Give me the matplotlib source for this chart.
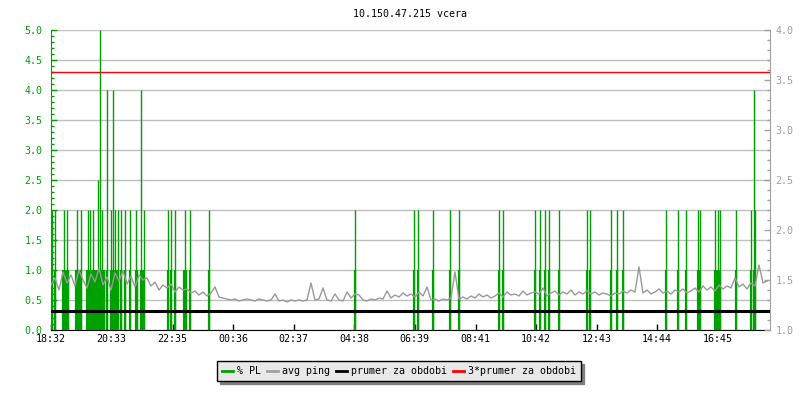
import numpy as np
import matplotlib
matplotlib.use('Agg')
import matplotlib.pyplot as plt
from matplotlib.ticker import MultipleLocator, FormatStrFormatter

plt.rcParams['font.family'] = 'DejaVu Sans Mono'
plt.rcParams['font.size'] = 7.2

title = '10.150.47.215 vcera'

# x axis: minutes since 18:32
tick_min = [0, 121, 243, 364, 485, 606, 727, 849, 970, 1091, 1212, 1333]
tick_lab = ['18:32', '20:33', '22:35', '00:36', '02:37', '04:38',
            '06:39', '08:41', '10:42', '12:43', '14:44', '16:45']
x_end = 1438

# packet loss samples (% PL), only the non zero ones
pl_min = [2, 8, 24, 26, 28, 30, 32, 34, 50, 52, 54, 56, 60, 72, 74, 76, 78,
          80, 82, 84, 86, 88, 92, 94, 97, 100, 102, 104, 106, 111, 120, 124,
          128, 132, 134, 140, 148, 158, 170, 172, 180, 182, 184, 186, 234,
          240, 248, 266, 268, 270, 278, 315,
          607, 725, 733, 763, 797, 815, 895, 904, 967, 978, 987, 995, 1015,
          1071, 1078, 1119, 1132, 1143, 1229, 1253, 1270, 1294, 1296, 1298,
          1327, 1330, 1333, 1335, 1338, 1369, 1400, 1405, 1408]
pl_val = [2.0, 2.0, 1.0, 2.0, 1.0, 1.0, 2.0, 1.0, 1.0, 2.0, 1.0, 1.0, 2.0,
          1.0, 2.0, 1.0, 2.0, 1.0, 1.0, 2.0, 1.0, 1.0, 1.0, 2.5, 5.0, 1.0,
          2.0, 1.0, 1.0, 4.0, 2.0, 4.0, 2.0, 1.0, 2.0, 2.0, 2.0, 2.0, 2.0,
          1.0, 4.0, 1.0, 1.0, 2.0, 2.0, 2.0, 2.0, 1.0, 2.0, 1.0, 2.0, 2.0,
          2.0, 2.0, 2.0, 2.0, 2.0, 2.0, 2.0, 2.0, 2.0, 2.0, 2.0, 2.0, 2.0,
          2.0, 2.0, 2.0, 2.0, 2.0, 2.0, 2.0, 2.0, 2.0, 1.0, 2.0,
          2.0, 1.0, 2.0, 1.0, 2.0, 2.0, 2.0, 4.0, 2.0]

# avg ping (right axis), one value every 8 minutes
ping_step = 8
ping = [1.45, 1.52, 1.40, 1.58, 1.47, 1.55, 1.44, 1.60, 1.50, 1.42, 1.56, 1.48,
        1.62, 1.45, 1.53, 1.40, 1.57, 1.49, 1.59, 1.46, 1.54, 1.43, 1.55, 1.50,
        1.52, 1.44, 1.48, 1.40, 1.45, 1.42, 1.46, 1.38, 1.43, 1.40, 1.41, 1.37,
        1.39, 1.35, 1.38, 1.34, 1.37, 1.43, 1.33, 1.32, 1.31,
        1.30, 1.31, 1.29, 1.30, 1.31, 1.30, 1.29, 1.31, 1.30, 1.29, 1.30, 1.36,
        1.29, 1.30, 1.28, 1.30, 1.29, 1.30, 1.29, 1.30, 1.47, 1.30, 1.31, 1.42,
        1.30, 1.29, 1.36, 1.30, 1.29, 1.38, 1.32, 1.36, 1.35, 1.30, 1.29, 1.31,
        1.30, 1.32, 1.31, 1.39, 1.32, 1.35, 1.33, 1.37, 1.34,
        1.36, 1.33, 1.38, 1.34, 1.43, 1.30, 1.31, 1.29, 1.31, 1.30, 1.32, 1.58,
        1.31, 1.33, 1.31, 1.34, 1.32, 1.36, 1.33, 1.35, 1.32, 1.34, 1.37, 1.33,
        1.38, 1.35, 1.36, 1.34, 1.39, 1.35, 1.37, 1.38, 1.36, 1.42, 1.34, 1.37,
        1.39, 1.35, 1.38, 1.36, 1.40, 1.35, 1.38, 1.36, 1.39,
        1.36, 1.38, 1.35, 1.37, 1.36, 1.34, 1.37, 1.36, 1.39, 1.37, 1.40, 1.38,
        1.63, 1.37, 1.40, 1.36, 1.38, 1.41, 1.37, 1.39, 1.36, 1.40, 1.38, 1.41,
        1.37, 1.39, 1.42, 1.38, 1.44, 1.40, 1.43, 1.39, 1.45, 1.41, 1.44, 1.42,
        1.52, 1.43, 1.46, 1.41, 1.47, 1.44, 1.65, 1.47, 1.49]
avg_ping = 1.195

green = '#00a000'
grey = '#999999'

fig = plt.figure(figsize=(8, 4), dpi=100)
ax = fig.add_axes([51/800, 70/400, 719/800, 300/400])
ax2 = ax.twinx()

pl_min = np.array(pl_min)
pl_val = np.array(pl_val)
# thin line to the top, a bit wider below 1.0 like the rrd look
ax.vlines(pl_min, 0, pl_val, color=green, lw=1.0, snap=True, zorder=3)
ax.vlines(pl_min, 0, np.minimum(pl_val, 1.0), color=green, lw=1.6,
          snap=True, zorder=3)

t = np.arange(len(ping)) * ping_step
ax2.plot(t, ping, color=grey, lw=1.0)
ax2.axhline(avg_ping, color='black', lw=2.2)
ax2.axhline(3 * avg_ping, color='red', lw=1)

ax.set_xlim(0, x_end)
ax.set_ylim(0, 5)
ax2.set_ylim(1, 4)

ax.set_xticks(tick_min)
ax.set_xticklabels(tick_lab)
ax.yaxis.set_major_locator(MultipleLocator(0.5))
ax.yaxis.set_minor_locator(MultipleLocator(0.1))
ax.yaxis.set_major_formatter(FormatStrFormatter('%.1f'))
ax2.yaxis.set_major_locator(MultipleLocator(0.5))
ax2.yaxis.set_minor_locator(MultipleLocator(0.1))
ax2.yaxis.set_major_formatter(FormatStrFormatter('%.1f'))

ax.grid(axis='y', color='#c0c0c0', lw=1)
ax.set_axisbelow(True)

ax.tick_params(axis='x', direction='in', length=4, width=1, pad=3, colors='black')
ax.tick_params(axis='y', which='both', direction='in', width=1, pad=6,
               colors=green)
ax.tick_params(axis='y', which='major', length=4.5)
ax.tick_params(axis='y', which='minor', length=2.5)
ax2.tick_params(axis='y', which='both', direction='in', width=1, pad=4,
                colors='#a0a0a0')
ax2.tick_params(axis='y', which='major', length=4.5)
ax2.tick_params(axis='y', which='minor', length=2.5)

for s in ['top', 'right']:
    ax.spines[s].set_visible(False)
ax.spines['left'].set_color(green)
ax.spines['bottom'].set_color('black')
for s in ['top', 'left', 'bottom']:
    ax2.spines[s].set_visible(False)
ax2.spines['right'].set_color('#a0a0a0')

fig.text(410/800, 1 - 14/400, title, ha='center', va='center')

handles = [plt.Line2D([], [], color=green, lw=2),
           plt.Line2D([], [], color='#a0a0a0', lw=2),
           plt.Line2D([], [], color='black', lw=2),
           plt.Line2D([], [], color='red', lw=2)]
labels = ['% PL', 'avg ping', 'prumer za obdobi', '3*prumer za obdobi']
fig.legend(handles, labels, loc='center', bbox_to_anchor=(399/800, 1 - 371/400),
           ncol=4, fancybox=False, edgecolor='black', facecolor='#e8e8e8',
           framealpha=1, shadow={'color': '#808080', 'alpha': 1},
           handlelength=1.1, handletextpad=0.4, columnspacing=0.6,
           borderpad=0.5)

fig.savefig('out.png', dpi=100)
